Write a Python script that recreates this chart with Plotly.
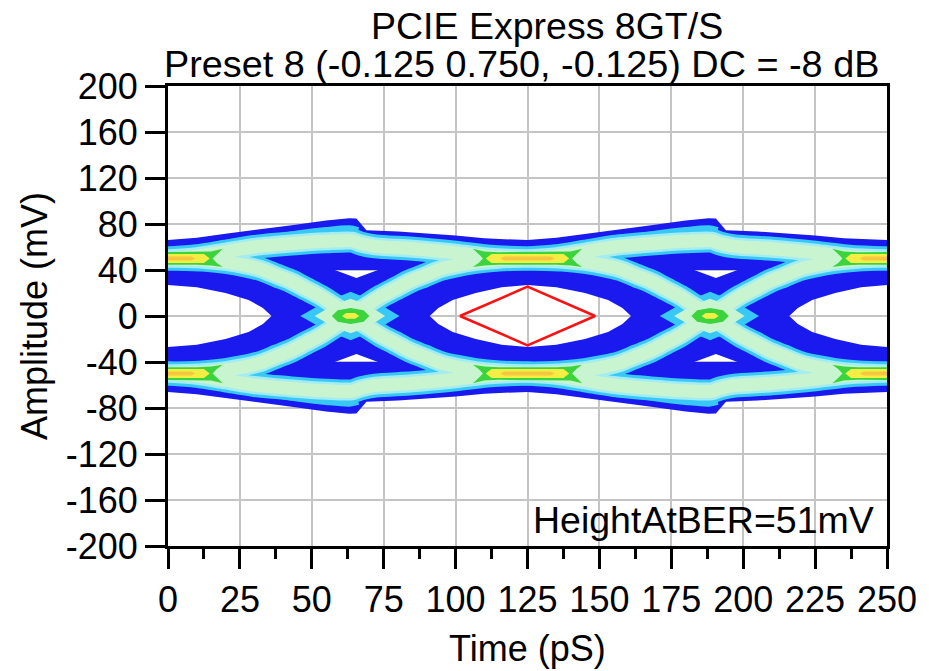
import plotly.graph_objects as go

# ---------------------------------------------------------------------------
# Data: time in ps, amplitude in mV (upper half of the eye, one unit interval)
# ---------------------------------------------------------------------------
UI = 125.0                       # unit interval at 8 GT/s
eye_centres = [0, 125, 250]
crossing = 63.5                  # crossing time inside each UI
eye_height = 51                  # HeightAtBER (mV)
mask_half_width = 23.5           # ps

x_ticks = [0, 25, 50, 75, 100, 125, 150, 175, 200, 225, 250]
y_ticks = [-200, -160, -120, -80, -40, 0, 40, 80, 120, 160, 200]

# outer (upper) envelope over one UI
env_t = [0, 10, 20, 30, 43, 55, 63, 65.5, 69, 80, 90, 100, 110, 125]
env_v = [66, 68, 71.5, 74.5, 79, 83, 85, 84.7, 74.5, 73.5, 72, 70, 67.5, 66]

# upper edge of the eye opening, relative to an eye centre
open_t = [-34, -31, -26, -18, -9, 0, 10, 20, 28, 33, 36]
open_v = [0, 7, 14, 20, 25, 27, 25, 20, 14, 7, 0]

# "1 -> 1" trajectory over one UI
arc_t = [0, 10, 20, 30, 43, 55, 64, 67, 72, 85, 100, 112, 125]
arc_v = [50, 52, 56, 60, 63, 65, 65.5, 63, 60.5, 58.5, 55, 51.5, 50]

# faint trajectory riding above the 1 -> 1 path before the crossing
shoulder_t = [35, 45, 55, 63, 66]
shoulder_v = [66, 70, 73, 74.5, 73]

# "1 -> 0" transition over one UI ("0 -> 1" is its mirror image)
arm_t = [0, 12, 20, 27, 32, 38, 43, 48, 53, 58, 63.5,
         69, 74, 79, 84, 89, 95, 100, 107, 115, 125]
arm_v = [50, 49, 47, 44, 41, 35, 30, 23.5, 17, 9, 0,
         -9, -17, -23.5, -30, -35, -41, -44, -47, -49, -50]

# density blobs at the crossing point (relative to the crossing)
xc_cyan_t = [-17.5, -9, 0, 9, 17, 9, 0, -9]
xc_cyan_v = [0, 12, 21, 12, 0, -12, -21, -12]
xc_pale_t = [-12.5, -6, 0, 6, 12, 6, 0, -6]
xc_pale_v = [0, 9.5, 15, 9.5, 0, -9.5, -15, -9.5]
xc_green_t = [-6.5, -4.5, 0, 4.5, 6.5, 4.5, 0, -4.5]
xc_green_v = [0, 5, 7, 5, 0, -5, -7, -5]
xc_yellow_t = [-3, -1.5, 1.5, 3, 1.5, -1.5]
xc_yellow_v = [0, 2.5, 2.5, 0, -2.5, -2.5]

# density cores on the upper rail (relative to an eye centre)
core_green_t = [-19, -15, -10, 10, 15, 19, 17, 15.5, 17, 19,
                15, 10, -10, -15, -19, -17, -15.5, -17]
core_green_v = [58.5, 56, 55.5, 55.5, 56, 58.5, 54, 50, 46, 42.5,
                44, 44.5, 44.5, 44, 42.5, 46, 50, 54]
core_yellow_t = [-12.5, 12.5, 14.5, 12.5, -12.5, -14.5]
core_yellow_v = [54, 54, 50, 46, 46, 50]
core_orange_t = [-8, 8, 9.5, 8, -8, -9.5]
core_orange_v = [51.8, 51.8, 50, 48.2, 48.2, 50]

# empty pockets between the 1 -> 1 path and the transitions
pocket_t = [58, 65.5, 73]
pocket_v = [40, 33, 40]

BLUE = "#1a1aee"
CYAN = "#38c8f6"
LCYAN = "#a2ecf2"
PALE = "#c8f5d0"
GREEN = "#3cd43c"
YELLOW = "#f4ee44"
ORANGE = "#f6c640"

tiles = [-1, 0, 1, 2]


def area(xs, ys):
    s = 0.0
    n = len(xs)
    for i in range(n):
        j = (i + 1) % n
        s += xs[i] * ys[j] - xs[j] * ys[i]
    return s / 2


def oriented(xs, ys, positive):
    if (area(xs, ys) > 0) != positive:
        return list(xs[::-1]), list(ys[::-1])
    return list(xs), list(ys)


def join(paths):
    X, Y = [], []
    for xs, ys in paths:
        if X:
            X.append(None)
            Y.append(None)
        X += list(xs)
        Y += list(ys)
    return X, Y


def polygon(ts, vs, dt, sign=1):
    return [t + dt for t in ts], [sign * v for v in vs]


# ---- envelope with the eye openings and pockets cut out as holes ----
top_x, top_y = [], []
for k in tiles:
    top_x += [t + k * UI for t in env_t]
    top_y += env_v
env_x = top_x + top_x[::-1]
env_y = top_y + [-v for v in top_y[::-1]]
paths = [oriented(env_x, env_y, False)]
for c in eye_centres:
    xs = [c + t for t in open_t] + [c + t for t in open_t[::-1]]
    ys = list(open_v) + [-v for v in open_v[::-1]]
    paths.append(oriented(xs, ys, True))
for k in (0, 1):
    for s in (1, -1):
        xs, ys = polygon(pocket_t, pocket_v, k * UI, s)
        paths.append(oriented(xs, ys, True))
env_X, env_Y = join(paths)

# ---- trajectories ----
traj = []
ax, ay = [], []
for k in tiles:
    ax += [t + k * UI for t in arc_t]
    ay += arc_v
traj.append((ax, ay))
traj.append((ax, [-v for v in ay]))
for k in tiles:
    xs = [t + k * UI for t in arm_t]
    traj.append((xs, arm_v))
    traj.append((xs, [-v for v in arm_v]))
traj_X, traj_Y = join(traj)

sh = []
for k in tiles:
    for s in (1, -1):
        sh.append(polygon(shoulder_t, shoulder_v, k * UI, s))
sh_X, sh_Y = join(sh)


def blobs(ts, vs, centres, mirror):
    ps = []
    for c in centres:
        ps.append(polygon(ts, vs, c))
        if mirror:
            ps.append(polygon(ts, vs, c, -1))
    return join(ps)


cross_centres = [crossing + k * UI for k in tiles]

fig = go.Figure()


def add_fill(X, Y, color, shape="linear"):
    fig.add_trace(go.Scatter(x=X, y=Y, mode="lines", fill="toself",
                             fillcolor=color,
                             line=dict(width=0, color=color, shape=shape),
                             hoverinfo="skip"))


def add_line(X, Y, color, width):
    fig.add_trace(go.Scatter(x=X, y=Y, mode="lines",
                             line=dict(color=color, width=width,
                                       shape="spline", smoothing=0.8),
                             hoverinfo="skip"))


add_fill(env_X, env_Y, BLUE)
add_line(sh_X, sh_Y, CYAN, 10)
add_line(traj_X, traj_Y, CYAN, 24)
add_fill(*blobs(xc_cyan_t, xc_cyan_v, cross_centres, False), CYAN)
add_line(traj_X, traj_Y, LCYAN, 18)
add_line(traj_X, traj_Y, PALE, 13)
add_fill(*blobs(xc_pale_t, xc_pale_v, cross_centres, False), PALE)
add_fill(*blobs(core_green_t, core_green_v, eye_centres, True), GREEN)
add_fill(*blobs(core_yellow_t, core_yellow_v, eye_centres, True), YELLOW)
add_fill(*blobs(core_orange_t, core_orange_v, eye_centres, True), ORANGE)
add_fill(*blobs(xc_green_t, xc_green_v, cross_centres, False), GREEN)
add_fill(*blobs(xc_yellow_t, xc_yellow_v, cross_centres, False), YELLOW)

# eye mask (diamond) sized from the reported eye height
mc = eye_centres[1]
mask_x = [mc - mask_half_width, mc, mc + mask_half_width, mc, mc - mask_half_width]
mask_y = [0, eye_height / 2, 0, -eye_height / 2, 0]
fig.add_trace(go.Scatter(x=mask_x, y=mask_y, mode="lines",
                         line=dict(color="#ff1010", width=2.5), hoverinfo="skip"))

FONT = 'Arial, "Liberation Sans", sans-serif'
minor_x = [(a + b) / 2 for a, b in zip(x_ticks[:-1], x_ticks[1:])]

axis_common = dict(ticks="outside", ticklen=20, tickwidth=2.5, tickcolor="black",
                   showline=True, linewidth=3, linecolor="black", mirror=True,
                   showgrid=True, gridcolor="#c4c4c4", gridwidth=2, zeroline=False,
                   tickfont=dict(family=FONT, size=36, color="black"))
fig.update_xaxes(range=[0, 250], tickmode="array", tickvals=x_ticks,
                 minor=dict(tickvals=minor_x, ticks="outside", ticklen=10,
                            tickwidth=2.5, tickcolor="black", showgrid=False),
                 **axis_common)
fig.update_yaxes(range=[-200, 200], tickmode="array", tickvals=y_ticks,
                 ticktext=[str(v) for v in y_ticks], **axis_common)

ann = [
    dict(text="PCIE Express 8GT/S", x=(550 - 168) / 725, y=(546 - 26) / 460,
         font=dict(size=37.5)),
    dict(text="Preset 8 (-0.125 0.750, -0.125) DC = -8 dB", x=(524 - 168) / 725,
         y=(546 - 64) / 460, font=dict(size=37.8)),
    dict(text="Time (pS)", x=0.5, y=(546 - 648) / 460, font=dict(size=36)),
    dict(text="Amplitude (mV)", x=(33 - 168) / 725, y=0.5, textangle=-90,
         font=dict(size=36)),
    dict(text="HeightAtBER=51mV", x=(882 - 168) / 725, y=(546 - 520) / 460,
         xanchor="right", font=dict(size=37.5)),
]
for a in ann:
    a.setdefault("xanchor", "center")
    a["font"] = dict(family=FONT, color="black", **a["font"])
    fig.add_annotation(xref="paper", yref="paper", yanchor="middle",
                       showarrow=False, **a)

fig.update_layout(width=929, height=671,
                  margin=dict(l=168, r=36, t=86, b=125),
                  paper_bgcolor="white", plot_bgcolor="white",
                  showlegend=False,
                  font=dict(family=FONT, size=36, color="black"))

fig.write_html("out.html")
